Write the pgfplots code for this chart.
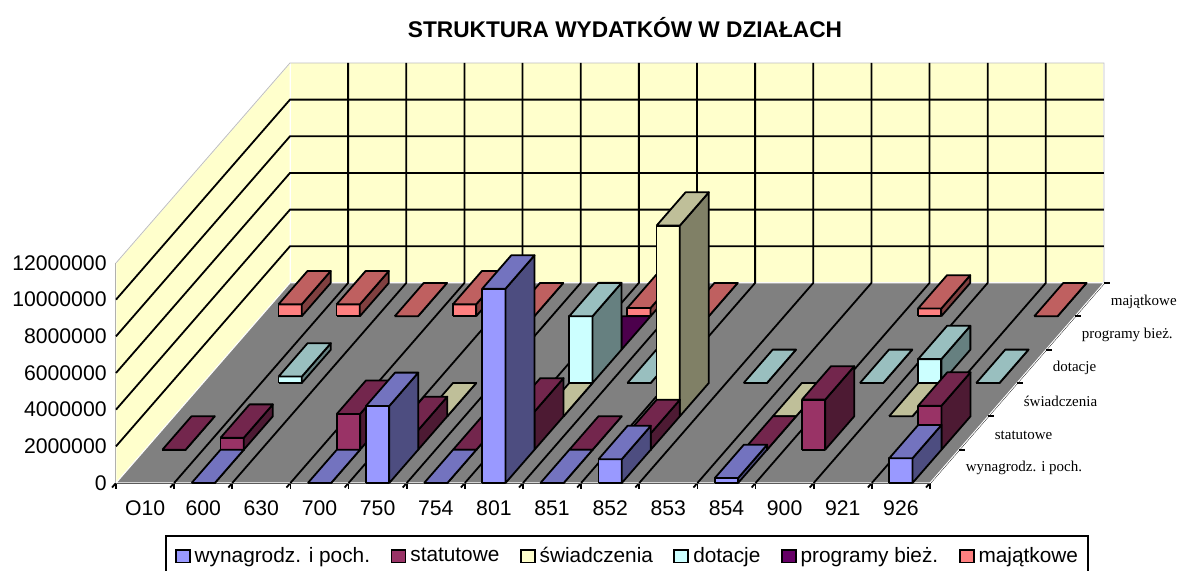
\documentclass[border=0pt]{standalone}
\usepackage{fontspec}
\setmainfont{Liberation Sans}
\newfontfamily\serifl{Liberation Serif}
\usepackage{pgfplots}
\pgfplotsset{compat=1.18}

% front / side / top shades of each series
\definecolor{Af}{HTML}{9999FF}\definecolor{As}{HTML}{4D4D80}\definecolor{At}{HTML}{7373BF}
\definecolor{Bf}{HTML}{993366}\definecolor{Bs}{HTML}{4D1A33}\definecolor{Bt}{HTML}{73264D}
\definecolor{Cf}{HTML}{FFFFCC}\definecolor{Cs}{HTML}{808066}\definecolor{Ct}{HTML}{BFBF99}
\definecolor{Df}{HTML}{CCFFFF}\definecolor{Ds}{HTML}{668080}\definecolor{Dt}{HTML}{99BFBF}
\definecolor{Ef}{HTML}{660066}\definecolor{Es}{HTML}{4C004C}\definecolor{Et}{HTML}{4D004D}
\definecolor{Ff}{HTML}{FF8080}\definecolor{Fs}{HTML}{804040}\definecolor{Ft}{HTML}{BF6060}
\definecolor{wall}{HTML}{FFFFCC}
\definecolor{floorc}{HTML}{808080}

\pgfplotsset{
  face/.style={draw=black,line width=0.9pt,line join=round,no markers,forget plot},
  gridl/.style={draw=black,line width=0.9pt,no markers,forget plot},
}

% category, row, height (millions), series
\newcommand{\wbar}[4]{%
  \pgfmathsetmacro\xa{#1+0.3}\pgfmathsetmacro\xb{#1+0.7}\pgfmathsetmacro\yb{#2+1}%
  \addplot3[face,fill=#4f] coordinates {(\xa,#2,0)(\xb,#2,0)(\xb,#2,#3)(\xa,#2,#3)(\xa,#2,0)};
  \addplot3[face,fill=#4s] coordinates {(\xb,#2,0)(\xb,\yb,0)(\xb,\yb,#3)(\xb,#2,#3)(\xb,#2,0)};
  \addplot3[face,fill=#4t] coordinates {(\xa,#2,#3)(\xb,#2,#3)(\xb,\yb,#3)(\xa,\yb,#3)(\xa,#2,#3)};
}

\begin{document}
\begin{tikzpicture}
\useasboundingbox (0pt,0pt) rectangle (589pt,285.5pt);
\begin{axis}[
  at={(58pt,44pt)}, anchor=origin,
  x={(29.07pt,0pt)}, y={(14.5pt,16.67pt)}, z={(0pt,9.167pt)},
  xmin=0, xmax=14, ymin=0, ymax=6, zmin=0, zmax=12,
  clip=false,
  axis x line*=bottom, axis y line*=left, axis z line*=left,
  axis line style={line width=0.9pt,-},
  tick style={line width=0.9pt,black},
  tick align=outside,
  tickwidth=0pt, subtickwidth=3pt,
  xtick={0.5,1.5,...,13.5},
  xticklabels={O10,600,630,700,750,754,801,851,852,853,854,900,921,926},
  minor xtick={0,1,...,14},
  ytick={0.5,1.5,...,5.5},
  yticklabels={wynagrodz. i poch.,statutowe,świadczenia,dotacje,programy bież.,majątkowe},
  ztick={0,2,...,12},
  zticklabels={0,2000000,4000000,6000000,8000000,10000000,12000000},
  xticklabel style={font=\fontsize{10.6}{12}\selectfont,anchor=center,yshift=-12.5pt},
  yticklabel style={font=\fontsize{7.5}{9}\selectfont\serifl,anchor=west,inner sep=0pt,xshift=10.5pt,yshift=-1pt},
  zticklabel style={font=\fontsize{10.6}{12}\selectfont,anchor=east,inner sep=0pt,xshift=-4.5pt},
  title={\bfseries STRUKTURA WYDATKÓW W DZIAŁACH},
  title style={font=\fontsize{11.34}{13}\selectfont,at={(axis cs:8.755,0,24.2)},anchor=center},
  legend columns=6,
  legend style={at={(axis cs:0.843,0,-2.836)},anchor=north west,draw=black,line width=0.9pt,
    font=\fontsize{10.4}{12}\selectfont,inner xsep=3pt,inner ysep=3.5pt,
    /tikz/every even column/.append style={column sep=6.75pt}},
  legend image code/.code={\path (0pt,0pt);\draw[#1,line width=0.9pt] (1.5pt,-3.2pt) rectangle (8.5pt,3.2pt);},
]
% walls and floor
\addplot3[face,draw=white,line width=0.5pt,fill=wall] coordinates {(0,0,0)(0,6,0)(0,6,12)(0,0,12)(0,0,0)};
\addplot3[face,draw=white,line width=0.5pt,fill=wall] coordinates {(0,6,0)(14,6,0)(14,6,12)(0,6,12)(0,6,0)};
\addplot3[gridl,draw=black!25,line width=0.4pt] coordinates {(0,0,12)(0,6,12)(14,6,12)(14,6,0)};
\addplot3[face,draw=white,line width=0.5pt,fill=floorc] coordinates {(0,0,0)(14,0,0)(14,6,0)(0,6,0)(0,0,0)};
% grid
\pgfplotsinvokeforeach{1,...,13}{\addplot3[gridl] coordinates {(#1,0,0)(#1,6,0)(#1,6,12)};}
\pgfplotsinvokeforeach{2,4,6,8,10}{\addplot3[gridl] coordinates {(0,0,#1)(0,6,#1)(14,6,#1)};}
% depth axis ticks run horizontally
\pgfplotsinvokeforeach{1,...,6}{\addplot3[gridl] coordinates {(14,#1,0)(14.11,#1,0)};}

% majątkowe
\wbar{0}{5}{0.65}{F}
\wbar{1}{5}{0.65}{F}
\wbar{2}{5}{0}{F}
\wbar{3}{5}{0.65}{F}
\wbar{4}{5}{0}{F}
\addplot3[face,fill=Es] coordinates {(6.7,4,0)(6.7,5,0)(6.7,4,1.82)(6.7,4,0)}; % programy 801, mostly hidden
\wbar{6}{5}{0.45}{F}
\wbar{7}{5}{0}{F}
\wbar{11}{5}{0.42}{F}
\wbar{13}{5}{0}{F}
% dotacje
\wbar{1}{3}{0.35}{D}
\wbar{6}{3}{3.64}{D}
\wbar{7}{3}{0}{D}
\wbar{9}{3}{0}{D}
\wbar{11}{3}{0}{D}
\wbar{12}{3}{1.3}{D}
\wbar{13}{3}{0}{D}
% świadczenia
\wbar{4}{2}{0}{C}
\wbar{6}{2}{0}{C}
\wbar{8}{2}{10.4}{C}
\wbar{10}{2}{0}{C}
\wbar{12}{2}{0}{C}
% statutowe
\wbar{0}{1}{0}{B}
\wbar{1}{1}{0.65}{B}
\wbar{3}{1}{1.95}{B}
\wbar{4}{1}{1.07}{B}
\wbar{5}{1}{0}{B}
\wbar{6}{1}{2.08}{B}
\wbar{7}{1}{0}{B}
\wbar{8}{1}{0.9}{B}
\wbar{10}{1}{0}{B}
\wbar{11}{1}{2.73}{B}
\wbar{13}{1}{2.4}{B}
% wynagrodz. i poch.
\wbar{1}{0}{0}{A}
\wbar{3}{0}{0}{A}
\wbar{4}{0}{4.2}{A}
\wbar{5}{0}{0}{A}
\wbar{6}{0}{10.6}{A}
\wbar{7}{0}{0}{A}
\wbar{8}{0}{1.3}{A}
\wbar{10}{0}{0.27}{A}
\wbar{13}{0}{1.35}{A}

\addlegendimage{fill=Af,draw=black}\addlegendentry{wynagrodz. i poch.}
\addlegendimage{fill=Bf,draw=black}\addlegendentry{statutowe}
\addlegendimage{fill=Cf,draw=black}\addlegendentry{świadczenia}
\addlegendimage{fill=Df,draw=black}\addlegendentry{dotacje}
\addlegendimage{fill=Ef,draw=black}\addlegendentry{programy bież.}
\addlegendimage{fill=Ff,draw=black}\addlegendentry{majątkowe}
\end{axis}
\end{tikzpicture}
\end{document}
